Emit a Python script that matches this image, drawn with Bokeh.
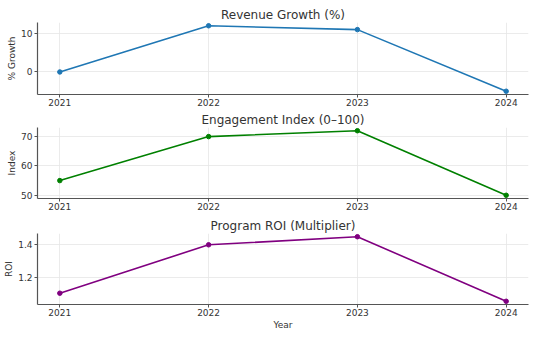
from bokeh.plotting import figure
from bokeh.layouts import column
from bokeh.models import FixedTicker, Range1d
from bokeh.embed import file_html
from bokeh.resources import INLINE

years = [2021, 2022, 2023, 2024]
revenue_growth = [0, 12, 11, -5]
engagement_index = [55, 70, 72, 50]
program_roi = [1.10, 1.40, 1.45, 1.05]

titles = ["Revenue Growth (%)", "Engagement Index (0\u2013100)", "Program ROI (Multiplier)"]
ylabels = ["% Growth", "Index", "ROI"]
yticks = [[0, 10], [50, 60, 70], [1.2, 1.4]]
colors = ["#1f77b4", "green", "purple"]
series = [revenue_growth, engagement_index, program_roi]

FONT = "DejaVu Sans"
borders = [(22, 14), (19, 15), (20, 33)]
frame_heights = [72, 71, 71]

figs = []
for i, (vals, title, ylab, yt, col) in enumerate(zip(series, titles, ylabels, yticks, colors)):
    lo, hi = min(vals), max(vals)
    pad = (hi - lo) * 0.05
    xpad = (years[-1] - years[0]) * 0.05
    p = figure(frame_width=491, frame_height=frame_heights[i],
               min_border_left=37, min_border_right=8,
               min_border_top=borders[i][0], min_border_bottom=borders[i][1],
               x_range=Range1d(years[0] - xpad, years[-1] + xpad),
               y_range=Range1d(lo - pad, hi + pad),
               output_backend="svg", toolbar_location=None, title=title)
    p.title.align = "center"
    p.title.text_font = FONT
    p.title.text_font_size = "12px"
    p.title.text_font_style = "normal"
    p.title.text_color = "#333333"
    p.title.standoff = 2
    p.outline_line_color = None
    p.background_fill_color = "white"
    p.border_fill_color = "white"

    p.line(years, vals, line_color=col, line_width=1.6)
    p.scatter(years, vals, color=col, size=4.5)

    p.xaxis.ticker = FixedTicker(ticks=years)
    p.yaxis.ticker = FixedTicker(ticks=yt)
    for ax in (p.xaxis[0], p.yaxis[0]):
        ax.axis_line_color = "#555555"
        ax.axis_line_width = 1.2
        ax.major_tick_line_color = "#555555"
        ax.major_tick_out = 3
        ax.major_tick_in = 0
        ax.minor_tick_line_color = None
        ax.major_label_text_font = FONT
        ax.major_label_text_font_size = "9px"
        ax.major_label_text_color = "#333333"
        ax.major_label_standoff = 1
        ax.axis_label_text_font = FONT
        ax.axis_label_text_font_size = "9px"
        ax.axis_label_text_font_style = "normal"
        ax.axis_label_text_color = "#333333"
        ax.axis_label_standoff = 1
    p.yaxis.major_label_standoff = 2
    p.yaxis.axis_label = ylab
    if i == 2:
        p.xaxis.axis_label = "Year"
    p.xgrid.ticker = FixedTicker(ticks=years)
    p.ygrid.ticker = FixedTicker(ticks=yt)
    p.grid.grid_line_color = "#e6e6e6"
    p.grid.grid_line_width = 0.8
    figs.append(p)

layout = column(*figs, spacing=0)
open("out.html", "w").write(file_html(layout, INLINE))
